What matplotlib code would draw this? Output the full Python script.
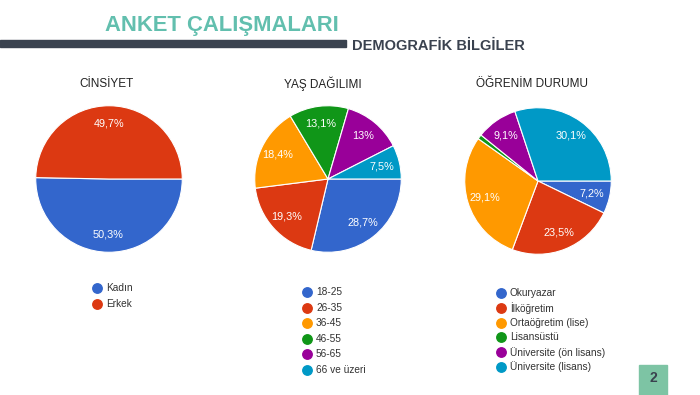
import numpy as np
import matplotlib.pyplot as plt
from matplotlib.patches import Rectangle

plt.rcParams['font.family'] = ['Liberation Sans', 'DejaVu Sans']

# chart data
gender_labels = ['Kadın', 'Erkek']
gender_values = [50.3, 49.7]
gender_text = ['50,3%', '49,7%']

age_labels = ['18-25', '26-35', '36-45', '46-55', '56-65', '66 ve üzeri']
age_values = [28.7, 19.3, 18.4, 13.1, 13.0, 7.5]
age_text = ['28,7%', '19,3%', '18,4%', '13,1%', '13%', '7,5%']

edu_labels = ['Okuryazar', 'İlköğretim', 'Ortaöğretim (lise)', 'Lisansüstü',
              'Üniversite (ön lisans)', 'Üniversite (lisans)']
edu_values = [7.2, 23.5, 29.1, 1.0, 9.1, 30.1]
edu_text = ['7,2%', '23,5%', '29,1%', '', '9,1%', '30,1%']

palette = ['#3366cc', '#dc3912', '#ff9900', '#109618', '#990099', '#0099c6']

W, H = 700, 395
fig = plt.figure(figsize=(7, 3.95), dpi=100)
fig.patch.set_facecolor('white')

# background axes in pixel coordinates (y down)
bg = fig.add_axes([0, 0, 1, 1])
bg.set_xlim(0, W)
bg.set_ylim(H, 0)
bg.axis('off')

bg.text(105, 25, 'ANKET ÇALIŞMALARI', fontsize=15.8, fontweight='bold',
        color='#62bfae', va='center', ha='left')
bg.add_patch(Rectangle((0, 40), 346, 7, color='#3a424f'))
bg.text(352, 45.5, 'DEMOGRAFİK BİLGİLER', fontsize=10.5, fontweight='bold',
        color='#3a424f', va='center', ha='left')

bg.add_patch(Rectangle((639, 365), 28, 30, color='#7dc4a4'))
bg.text(653, 378, '2', fontsize=10, fontweight='bold', color='#3a424f',
        ha='center', va='center')


def draw_pie(cx, cy, r, values, texts, title, title_x, labels, leg_x, leg_y, leg_dy):
    ax = fig.add_axes([(cx - r) / W, (H - cy - r) / H, 2 * r / W, 2 * r / H])
    wedges, _ = ax.pie(values, colors=palette[:len(values)], startangle=0,
                       counterclock=False, radius=1,
                       wedgeprops=dict(edgecolor='white', linewidth=0.8))
    for w, t in zip(wedges, texts):
        if not t:
            continue
        ang = np.deg2rad((w.theta1 + w.theta2) / 2)
        d = 0.76
        ax.text(d * np.cos(ang), d * np.sin(ang), t, color='white',
                fontsize=7.8, ha='center', va='center')
    ax.set_xlim(-1.01, 1.01)
    ax.set_ylim(-1.01, 1.01)
    ax.set_aspect('equal')
    ax.axis('off')

    bg.text(title_x, 84, title, fontsize=8.5, color='#222222',
            ha='center', va='center')
    for i, lab in enumerate(labels):
        y = leg_y + i * leg_dy
        bg.plot(leg_x, y, 'o', color=palette[i], markersize=6.8)
        bg.text(leg_x + 9, y, lab, fontsize=7.3, color='#333333',
                ha='left', va='center')


draw_pie(109, 179, 74, gender_values, gender_text, 'CİNSİYET', 107,
         gender_labels, 97, 288, 16)
draw_pie(328, 179, 74, age_values, age_text, 'YAŞ DAĞILIMI', 323,
         age_labels, 307, 292, 15.6)
draw_pie(538, 181, 74, edu_values, edu_text, 'ÖĞRENİM DURUMU', 532,
         edu_labels, 501, 293, 14.8)

fig.savefig('out.png', dpi=100)
